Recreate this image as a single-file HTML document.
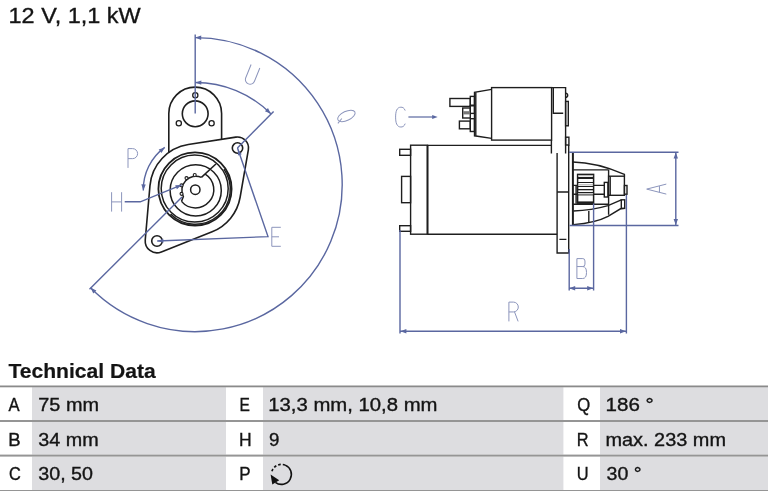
<!DOCTYPE html>
<html><head><meta charset="utf-8"><style>
html,body{margin:0;padding:0;background:#fff;}
body{width:768px;height:491px;overflow:hidden;}
svg{display:block;will-change:transform;}
text{font-family:"Liberation Sans",sans-serif;fill:#141414;}
</style></head><body>
<svg width="768" height="491" viewBox="0 0 768 491">
<rect width="768" height="491" fill="#fff"/>
<path d="M188.29,144.54 L235.80,137.13 A11,11 0 0 1 248.34,149.88 L240.13,197.26 A45.5,45.5 0 0 1 212.11,231.78 L161.36,251.96 A11.8,11.8 0 0 1 145.24,239.98 L149.97,185.56 A45.5,45.5 0 0 1 188.29,144.54 Z" fill="none" stroke="#1e1e1e" stroke-width="1.6"/>
<path d="M168.80,152.51 L168.80,113.50 A26.4,26.4 0 0 1 221.60,113.50 L221.60,139.35" fill="none" stroke="#1e1e1e" stroke-width="1.6"/>
<circle cx="195.2" cy="113.8" r="12.9" fill="none" stroke="#1e1e1e" stroke-width="1.6"/>
<circle cx="195.3" cy="95.2" r="2.6" fill="none" stroke="#1e1e1e" stroke-width="1.3"/>
<circle cx="178.8" cy="123.3" r="2.6" fill="none" stroke="#1e1e1e" stroke-width="1.3"/>
<circle cx="211.6" cy="123.3" r="2.6" fill="none" stroke="#1e1e1e" stroke-width="1.3"/>
<circle cx="237.5" cy="148" r="5.2" fill="none" stroke="#1e1e1e" stroke-width="1.6"/>
<circle cx="157.0" cy="241.0" r="5.3" fill="none" stroke="#1e1e1e" stroke-width="1.6"/>
<circle cx="195.0" cy="188.9" r="36.6" fill="none" stroke="#1e1e1e" stroke-width="1.8"/>
<circle cx="194.7" cy="188.6" r="33.5" fill="none" stroke="#1e1e1e" stroke-width="1.5"/>
<path d="M223.97,169.12 A35.0,35.0 0 0 1 170.55,213.95" fill="none" stroke="#1e1e1e" stroke-width="1.5"/>
<circle cx="195.7" cy="190.4" r="25.6" fill="none" stroke="#1e1e1e" stroke-width="1.5"/>
<path d="M205.20,174.08 A18.3,18.3 0 1 1 181.48,201.36" fill="none" stroke="#1e1e1e" stroke-width="1.5"/>
<path d="M181.48,201.36 L183.38,196.60 A14.0,14.0 0 0 1 201.40,177.40" fill="none" stroke="#1e1e1e" stroke-width="1.5"/>
<circle cx="181.54" cy="193.87" r="1.5" fill="#fff" stroke="#1e1e1e" stroke-width="1.1"/>
<circle cx="181.54" cy="185.33" r="1.5" fill="#fff" stroke="#1e1e1e" stroke-width="1.1"/>
<circle cx="186.51" cy="178.10" r="1.5" fill="#fff" stroke="#1e1e1e" stroke-width="1.1"/>
<circle cx="194.74" cy="175.02" r="1.5" fill="#fff" stroke="#1e1e1e" stroke-width="1.1"/>
<path d="M201.40,177.40 L215.90,164.00" stroke="#1e1e1e" stroke-width="1.5"/>
<circle cx="195.3" cy="189.7" r="4.7" fill="none" stroke="#1e1e1e" stroke-width="1.5"/>
<path d="M195.2,34.5 L195.2,113.5" stroke="#5a67a0" stroke-width="1.4"/>
<path d="M195.20,37.60 A147,147 0 1 1 90.53,287.82" fill="none" stroke="#5a67a0" stroke-width="1.4"/>
<path d="M195.20,37.60 L201.24,35.52 L201.15,39.92 Z" fill="#5a67a0"/>
<path d="M90.53,287.82 L96.37,290.43 L93.30,293.58 Z" fill="#5a67a0"/>
<path d="M89.5,289.2 L182,197" stroke="#5a67a0" stroke-width="1.4"/>
<path d="M195.30,82.50 A107,107 0 0 1 270.83,113.71" fill="none" stroke="#5a67a0" stroke-width="1.4"/>
<path d="M195.30,82.50 L201.36,80.47 L201.24,84.87 Z" fill="#5a67a0"/>
<path d="M270.83,113.71 L264.95,111.19 L267.97,107.99 Z" fill="#5a67a0"/>
<path d="M273.6,111.5 L237.4,148" stroke="#5a67a0" stroke-width="1.4"/>
<path d="M237.5,148 L268,236.6 L157.2,241.0" fill="none" stroke="#5a67a0" stroke-width="1.4"/>
<path d="M237.90,149.20 L241.74,154.22 L237.96,155.52 Z" fill="#5a67a0"/>
<path d="M157.40,241.00 L163.32,238.76 L163.47,242.76 Z" fill="#5a67a0"/>
<path d="M124.7,201.8 L140.3,201.8 L181.6,184.9" fill="none" stroke="#5a67a0" stroke-width="1.4"/>
<path d="M181.60,184.90 L176.88,189.21 L175.21,185.14 Z" fill="#5a67a0"/>
<path d="M143.31,190.41 A52,52 0 0 1 164.74,147.43" fill="none" stroke="#5a67a0" stroke-width="1.4"/>
<path d="M143.31,190.41 L141.35,184.32 L145.75,184.50 Z" fill="#5a67a0"/>
<path d="M164.74,147.43 L161.49,152.93 L158.70,149.53 Z" fill="#5a67a0"/>
<rect x="491.6" y="87.6" width="60.00" height="52.50" fill="none" stroke="#1e1e1e" stroke-width="1.4" />
<path d="M551.6,87.6 L565.6,87.6 L565.6,153.5 M551.4,140 L551.4,153.5 M553.3,87.6 L553.3,113.3 L563.2,113.3" fill="none" stroke="#1e1e1e" stroke-width="1.4"/>
<path d="M565.6,93.2 A2.1,2.1 0 0 1 565.6,97.4" fill="none" stroke="#1e1e1e" stroke-width="1.4" stroke-width="1.1"/>
<rect x="565.6" y="101.4" width="2.70" height="24.40" fill="none" stroke="#1e1e1e" stroke-width="1.4" stroke-width="1.1"/>
<rect x="565.6" y="137.2" width="3.30" height="7.80" fill="none" stroke="#1e1e1e" stroke-width="1.4" stroke-width="1.1"/>
<path d="M491.6,89.4 L474.5,92.4 L474.5,135.8 L491.6,138.4" fill="none" stroke="#1e1e1e" stroke-width="1.4"/>
<path d="M475.8,92.4 L475.8,135.8" fill="none" stroke="#1e1e1e" stroke-width="1.4" stroke-width="0.9"/>
<rect x="470.3" y="96.4" width="4.20" height="8.80" fill="none" stroke="#1e1e1e" stroke-width="1.4" />
<rect x="449.9" y="98.5" width="20.40" height="7.90" fill="none" stroke="#1e1e1e" stroke-width="1.4" />
<rect x="470.3" y="105.8" width="4.20" height="7.60" fill="none" stroke="#1e1e1e" stroke-width="1.4" />
<rect x="462.7" y="108.0" width="7.60" height="10.00" fill="none" stroke="#1e1e1e" stroke-width="1.4" />
<rect x="463.2" y="111.2" width="6.6" height="3.2" fill="#777"/>
<rect x="470.3" y="118.7" width="4.20" height="12.80" fill="none" stroke="#1e1e1e" stroke-width="1.4" />
<rect x="459.4" y="121.1" width="10.90" height="7.70" fill="none" stroke="#1e1e1e" stroke-width="1.4" />
<rect x="410.6" y="145.2" width="16.90" height="89.00" fill="none" stroke="#1e1e1e" stroke-width="1.4" />
<path d="M427.5,145.4 L551.4,145.4 M427.5,234.2 L557.1,234.2" fill="none" stroke="#1e1e1e" stroke-width="1.4"/>
<path d="M427.5,145.2 L427.5,234.2" fill="none" stroke="#1e1e1e" stroke-width="1.8"/>
<rect x="399.7" y="149.3" width="10.90" height="6.00" fill="none" stroke="#1e1e1e" stroke-width="1.4" />
<rect x="401.6" y="176.4" width="9.00" height="26.30" fill="none" stroke="#1e1e1e" stroke-width="1.4" />
<rect x="399.7" y="225.7" width="10.90" height="5.60" fill="none" stroke="#1e1e1e" stroke-width="1.4" />
<path d="M557.1,153.1 L557.1,253 L568.7,253 L568.7,145" fill="none" stroke="#1e1e1e" stroke-width="1.4"/>
<path d="M557.1,192 L568.7,192 M559.4,239.4 L566.4,239.4" fill="none" stroke="#1e1e1e" stroke-width="1.4"/>
<path d="M572.9,152 L572.9,225.3" fill="none" stroke="#1e1e1e" stroke-width="2"/>
<path d="M572.9,162 C590,162.3 606,166.5 624.4,174.3 L624.4,176.4" fill="none" stroke="#1e1e1e" stroke-width="1.4"/>
<path d="M572.9,169.9 L608.3,169.9 M608.6,169.5 L608.6,214.8" fill="none" stroke="#1e1e1e" stroke-width="1.4"/>
<path d="M572.9,204.3 L608.6,204.3" fill="none" stroke="#1e1e1e" stroke-width="1.4" stroke-width="1.2"/>
<path d="M573.4,211 C585,210.6 598,208.5 608,205.6 L621.3,199.8" fill="none" stroke="#1e1e1e" stroke-width="1.4" stroke-width="1.3"/>
<path d="M573.4,224.6 C590,223.2 600,220.5 608,216.3 L620.5,208.8 L624.7,208.4" fill="none" stroke="#1e1e1e" stroke-width="1.4" stroke-width="1.3"/>
<path d="M588.8,211 L588.8,222.3" fill="none" stroke="#1e1e1e" stroke-width="1.4" stroke-width="1.2"/>
<rect x="621.3" y="199.8" width="3.40" height="8.60" fill="none" stroke="#1e1e1e" stroke-width="1.4" stroke-width="1.2"/>
<path d="M572.9,185.4 L604.3,185.4 M572.9,194.3 L604.3,194.3 M576.1,185.4 L576.1,203.8" fill="none" stroke="#1e1e1e" stroke-width="1.4" stroke-width="1.2"/>
<rect x="577.6" y="174.4" width="16" height="28.8" fill="#fff" stroke="#1e1e1e" stroke-width="1.5"/>
<rect x="578" y="177" width="15.2" height="2" fill="#1e1e1e"/>
<rect x="578" y="182" width="15.2" height="1" fill="#1e1e1e"/>
<rect x="578" y="186" width="15.2" height="1" fill="#1e1e1e"/>
<rect x="578" y="189" width="15.2" height="1.3" fill="#1e1e1e"/>
<rect x="578" y="192" width="15.2" height="1" fill="#1e1e1e"/>
<rect x="578" y="194.4" width="15.2" height="1" fill="#1e1e1e"/>
<rect x="578" y="201.4" width="15.2" height="1.8" fill="#1e1e1e"/>
<rect x="578" y="175.3" width="15.2" height="0.9" fill="#aaa"/>
<rect x="578" y="184.3" width="15.2" height="1" fill="#aaa"/>
<rect x="578" y="193.2" width="15.2" height="0.9" fill="#bbb"/>
<rect x="604.3" y="182.4" width="3.60" height="14.60" fill="none" stroke="#1e1e1e" stroke-width="1.4" stroke-width="1.2"/>
<rect x="608.6" y="176.2" width="15.8" height="19.1" fill="#fff" fill="none" stroke="#1e1e1e" stroke-width="1.4"/>
<path d="M610.2,176.2 L610.2,195.3" fill="none" stroke="#1e1e1e" stroke-width="1.4" stroke-width="1.1"/>
<rect x="624.4" y="185.5" width="2.60" height="8.70" fill="none" stroke="#1e1e1e" stroke-width="1.4" stroke-width="1.1"/>
<path d="M569,152.2 L678.5,152.2 M569.5,225.5 L678.5,225.5 M675.8,152.2 L675.8,225.5" fill="none" stroke="#5a67a0" stroke-width="1.4"/>
<path d="M675.80,152.60 L678.00,158.60 L673.60,158.60 Z" fill="#5a67a0"/>
<path d="M675.80,225.10 L673.60,219.10 L678.00,219.10 Z" fill="#5a67a0"/>
<path d="M569.2,249 L569.2,290.5 M593.6,203.5 L593.6,290.5 M569.2,288.3 L593.6,288.3" fill="none" stroke="#5a67a0" stroke-width="1.4"/>
<path d="M569.20,288.30 L575.20,286.10 L575.20,290.50 Z" fill="#5a67a0"/>
<path d="M593.20,288.30 L587.20,290.50 L587.20,286.10 Z" fill="#5a67a0"/>
<path d="M400,230 L400,333.5 M626.4,195 L626.4,333.5 M400,331.3 L626.4,331.3" fill="none" stroke="#5a67a0" stroke-width="1.4"/>
<path d="M400.40,331.30 L406.40,329.10 L406.40,333.50 Z" fill="#5a67a0"/>
<path d="M626.00,331.30 L620.00,333.50 L620.00,329.10 Z" fill="#5a67a0"/>
<path d="M408.4,117 L433,117" fill="none" stroke="#5a67a0" stroke-width="1.2"/>
<path d="M437.70,117.00 L432.20,119.00 L432.20,115.00 Z" fill="#5a67a0"/>
<path d="M280.80,227.30 L271.80,227.30 L271.80,246.30 L280.80,246.30 M271.80,236.80 L279.00,236.80" fill="none" stroke="#8c95bc" stroke-width="1.0" stroke-linejoin="round"/>
<path d="M111.60,192.20 L111.60,211.60 M121.60,192.20 L121.60,211.60 M111.60,201.90 L121.60,201.90" fill="none" stroke="#8c95bc" stroke-width="1.0" stroke-linejoin="round"/>
<path d="M128.00,167.90 L128.00,148.60 L132.58,148.60 A5.02,5.02 0 0 1 132.58,158.64 L128.00,158.64" fill="none" stroke="#8c95bc" stroke-width="1.0" stroke-linejoin="round"/>
<path d="M247.20,65.60 L247.20,79.90 A4.70,4.70 0 0 0 256.60,79.90 L256.60,65.60" fill="none" stroke="#8c95bc" stroke-width="1.0" stroke-linejoin="round" transform="rotate(22 251.90 75.10)"/>
<path d="M341.80,115.90 A4.60,9.40 0 1 0 351.00,115.90 A4.60,9.40 0 1 0 341.80,115.90 M346.86,121.16 L349.62,126.80" fill="none" stroke="#8c95bc" stroke-width="1.0" stroke-linejoin="round" transform="rotate(65 346.40 115.90)"/>
<path d="M405.20,110.57 C404.05,107.60 402.51,107.20 400.88,107.20 C396.75,107.20 395.60,111.56 395.60,117.10 C395.60,122.64 396.75,127.00 400.88,127.00 C402.51,127.00 404.05,126.60 405.20,123.63" fill="none" stroke="#8c95bc" stroke-width="1.0" stroke-linejoin="round"/>
<path d="M651.50,198.90 L656.50,179.30 L661.50,198.90 M653.50,192.04 L659.50,192.04" fill="none" stroke="#8c95bc" stroke-width="1.0" stroke-linejoin="round" transform="rotate(-90 656.50 189.10)"/>
<path d="M576.90,266.56 L582.85,266.56 Q584.96,266.56 584.96,264.17 L584.96,260.99 Q584.96,258.60 582.85,258.60 L576.90,258.60 L576.90,278.50 L582.66,278.50 Q586.50,278.50 586.50,272.53 Q586.50,266.56 582.66,266.56" fill="none" stroke="#8c95bc" stroke-width="1.0" stroke-linejoin="round"/>
<path d="M508.90,321.40 L508.90,302.10 L513.38,302.10 A4.92,4.92 0 0 1 513.38,311.94 L508.90,311.94 M514.54,311.94 L518.11,321.40" fill="none" stroke="#8c95bc" stroke-width="1.0" stroke-linejoin="round"/>
<rect x="32" y="387.2" width="194" height="32.80" fill="#dddde0"/><rect x="263" y="387.2" width="300.4" height="32.80" fill="#dddde0"/><rect x="600" y="387.2" width="168" height="32.80" fill="#dddde0"/><rect x="32" y="422.0" width="194" height="32.60" fill="#dddde0"/><rect x="263" y="422.0" width="300.4" height="32.60" fill="#dddde0"/><rect x="600" y="422.0" width="168" height="32.60" fill="#dddde0"/><rect x="32" y="456.6" width="194" height="33.40" fill="#dddde0"/><rect x="263" y="456.6" width="300.4" height="33.40" fill="#dddde0"/><rect x="600" y="456.6" width="168" height="33.40" fill="#dddde0"/><rect x="0" y="385.5" width="768" height="1.8" fill="#8a8a8a"/><rect x="0" y="420.0" width="768" height="2.0" fill="#959595"/><rect x="0" y="454.6" width="768" height="2.0" fill="#959595"/><rect x="0" y="490.0" width="768" height="2.0" fill="#959595"/><text x="8.56" y="23.4" font-size="22.5" stroke="#141414" stroke-width="0.35" textLength="132.18" lengthAdjust="spacingAndGlyphs">12 V, 1,1 kW</text><text x="8.4" y="377.6" font-size="21" font-weight="bold" stroke="#141414" stroke-width="0.2" textLength="147.27" lengthAdjust="spacingAndGlyphs">Technical Data</text><text x="8.6" y="411.1" font-size="17.5" stroke="#141414" stroke-width="0.35" textLength="11.1" lengthAdjust="spacingAndGlyphs">A</text><text x="38.3" y="411.1" font-size="17.5" stroke="#141414" stroke-width="0.35" textLength="60.65" lengthAdjust="spacingAndGlyphs">75 mm</text><text x="239.41" y="411.1" font-size="17.5" stroke="#141414" stroke-width="0.35" textLength="10.4" lengthAdjust="spacingAndGlyphs">E</text><text x="268.24" y="411.1" font-size="17.5" stroke="#141414" stroke-width="0.35" textLength="169.29" lengthAdjust="spacingAndGlyphs">13,3 mm, 10,8 mm</text><text x="577.3" y="411.1" font-size="17.5" stroke="#141414" stroke-width="0.35" textLength="13.0" lengthAdjust="spacingAndGlyphs">Q</text><text x="605.63" y="411.1" font-size="17.5" stroke="#141414" stroke-width="0.35" textLength="48.22" lengthAdjust="spacingAndGlyphs">186 °</text><text x="8.34" y="445.8" font-size="17.5" stroke="#141414" stroke-width="0.35" textLength="12.39" lengthAdjust="spacingAndGlyphs">B</text><text x="38.3" y="445.8" font-size="17.5" stroke="#141414" stroke-width="0.35" textLength="60.35" lengthAdjust="spacingAndGlyphs">34 mm</text><text x="239.0" y="445.8" font-size="17.5" stroke="#141414" stroke-width="0.35" textLength="12.64" lengthAdjust="spacingAndGlyphs">H</text><text x="268.9" y="445.8" font-size="17.5" stroke="#141414" stroke-width="0.35" textLength="10.38" lengthAdjust="spacingAndGlyphs">9</text><text x="576.66" y="445.8" font-size="17.5" stroke="#141414" stroke-width="0.35" textLength="11.84" lengthAdjust="spacingAndGlyphs">R</text><text x="605.46" y="445.8" font-size="17.5" stroke="#141414" stroke-width="0.35" textLength="120.54" lengthAdjust="spacingAndGlyphs">max. 233 mm</text><text x="9.1" y="480.2" font-size="17.5" stroke="#141414" stroke-width="0.35" textLength="11.8" lengthAdjust="spacingAndGlyphs">C</text><text x="38.3" y="480.2" font-size="17.5" stroke="#141414" stroke-width="0.35" textLength="54.71" lengthAdjust="spacingAndGlyphs">30, 50</text><text x="239.23" y="480.2" font-size="17.5" stroke="#141414" stroke-width="0.35" textLength="11.34" lengthAdjust="spacingAndGlyphs">P</text><text x="576.66" y="480.2" font-size="17.5" stroke="#141414" stroke-width="0.35" textLength="11.84" lengthAdjust="spacingAndGlyphs">U</text><text x="606.6" y="480.2" font-size="17.5" stroke="#141414" stroke-width="0.35" textLength="35.07" lengthAdjust="spacingAndGlyphs">30 °</text><g fill="none" stroke="#111" stroke-width="1.6"><path d="M271.89,471.31 A10.0,10.0 0 0 1 285.15,465.13" stroke-dasharray="2.6,2.0"/><path d="M285.15,465.13 A10.0,10.0 0 1 1 275.38,482.39"/></g><path d="M270.6,474.6 L272.3,484.6 L279.2,480.2 Z" fill="#111"/>

</svg>
</body></html>
